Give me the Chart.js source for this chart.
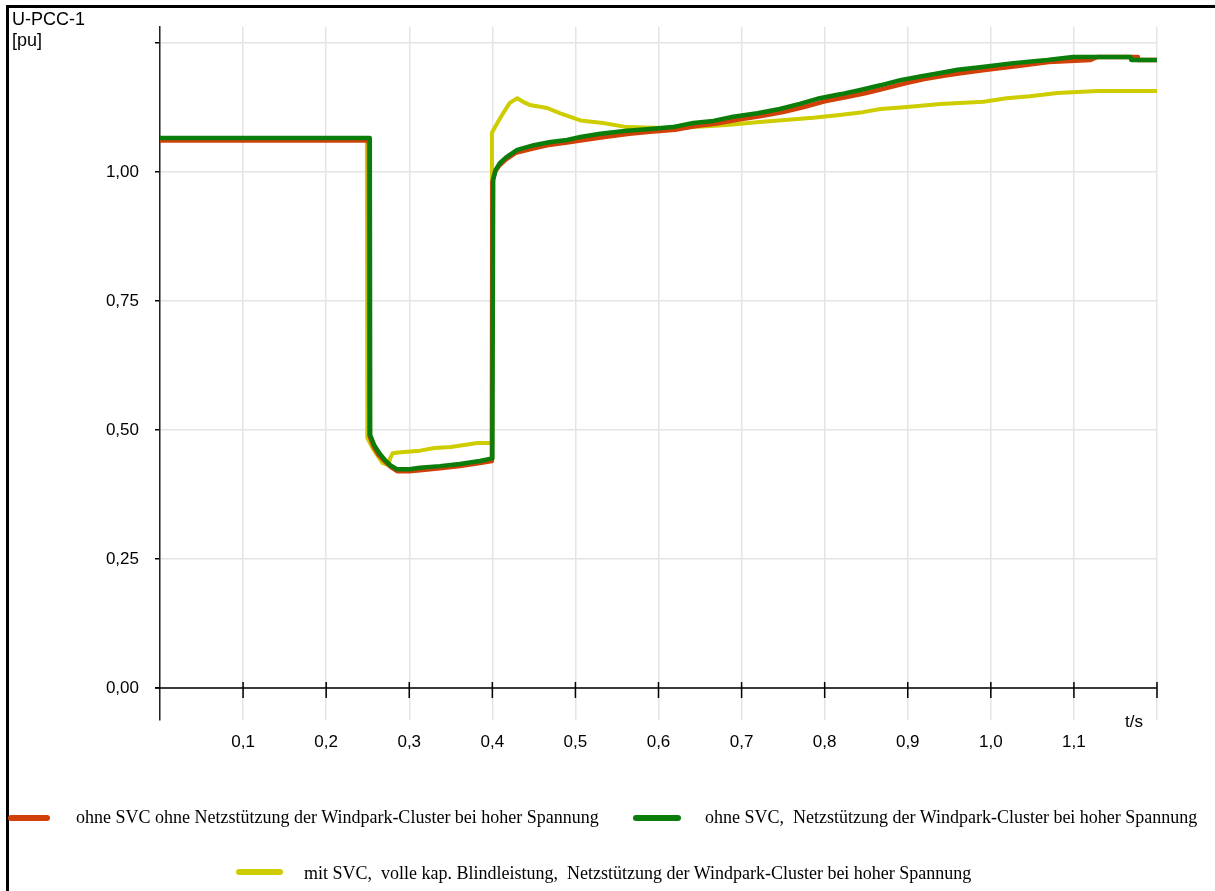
<!DOCTYPE html>
<html lang="de">
<head>
<meta charset="utf-8">
<title>U-PCC-1</title>
<script src="https://cdn.jsdelivr.net/npm/chart.js@4/dist/chart.umd.min.js"></script>
<style>
    body { margin: 0; background: #fff; }
    #wrap { position: relative; width: 1215px; height: 891px; overflow: hidden; background: #fff; }
    #chart { position: absolute; left: 0; top: 0; }
    .frame { position: absolute; left: 6px; top: 5px; width: 1400px; height: 1000px; border-top: 3px solid #000; border-left: 3px solid #000; }
    .unit { position: absolute; left: 12px; top: 9px; font: 18px/21px "Liberation Sans", Arial, sans-serif; color: #000; }
    .leg-line { position: absolute; height: 6px; border-radius: 3px; }
    .leg-text { position: absolute; font: 18px/18px "Liberation Serif", "Times New Roman", serif; color: #000; white-space: pre; }
</style>
</head>
<body>
<div id="wrap">
    <canvas id="chart" width="1215" height="891"></canvas>
    <div class="frame"></div>
    <div class="unit">U-PCC-1<br>[pu]</div>

    <div class="leg-line" style="left:8px; top:815px; width:42px; background:#d2400a"></div>
    <div class="leg-text" style="left:76px; top:808px">ohne SVC ohne Netzstützung der Windpark-Cluster bei hoher Spannung</div>

    <div class="leg-line" style="left:633px; top:815px; width:48px; background:#0a7d0a"></div>
    <div class="leg-text" style="left:705px; top:808px">ohne SVC,  Netzstützung der Windpark-Cluster bei hoher Spannung</div>

    <div class="leg-line" style="left:236px; top:869px; width:47px; background:#cdcd00"></div>
    <div class="leg-text" style="left:304px; top:864px">mit SVC,  volle kap. Blindleistung,  Netzstützung der Windpark-Cluster bei hoher Spannung</div>
</div>

<script>
// Achsen
const xTicks = [0, 0.1, 0.2, 0.3, 0.4, 0.5, 0.6, 0.7, 0.8, 0.9, 1.0, 1.1, 1.2];
const yTicks = [0, 0.25, 0.5, 0.75, 1.0, 1.25];

// ohne SVC ohne Netzstuetzung (rot)
const tRed = [0, 0.2515, 0.252, 0.257, 0.263, 0.270, 0.278, 0.286, 0.30, 0.313,
    0.337, 0.361, 0.385, 0.3995, 0.400, 0.403, 0.408, 0.416, 0.428, 0.45,
    0.47, 0.49, 0.51, 0.535, 0.565, 0.59, 0.62, 0.645, 0.67, 0.695,
    0.722, 0.75, 0.775, 0.80, 0.825, 0.85, 0.873, 0.897, 0.92, 0.945,
    0.97, 0.995, 1.035, 1.07, 1.12, 1.128, 1.176, 1.177, 1.2];
const uRed = [1.061, 1.061, 0.49, 0.468, 0.452, 0.44, 0.428, 0.42, 0.42, 0.422,
    0.426, 0.430, 0.436, 0.44, 0.98, 1.0, 1.012, 1.024, 1.037, 1.046,
    1.053, 1.057, 1.062, 1.068, 1.074, 1.078, 1.082, 1.089, 1.094, 1.101,
    1.108, 1.116, 1.126, 1.137, 1.145, 1.153, 1.162, 1.172, 1.18, 1.187,
    1.193, 1.198, 1.206, 1.213, 1.217, 1.223, 1.223, 1.217, 1.217];

// ohne SVC, Netzstuetzung (gruen)
const tGreen = [0, 0.2525, 0.253, 0.258, 0.264, 0.270, 0.277, 0.285, 0.30, 0.313,
    0.337, 0.361, 0.385, 0.400, 0.401, 0.404, 0.409, 0.417, 0.430, 0.45,
    0.47, 0.49, 0.506, 0.530, 0.562, 0.586, 0.617, 0.642, 0.666, 0.690,
    0.719, 0.746, 0.77, 0.794, 0.82, 0.843, 0.867, 0.891, 0.915, 0.939,
    0.96, 0.987, 1.027, 1.068, 1.099, 1.168, 1.169, 1.2];
const uGreen = [1.066, 1.066, 0.49, 0.47, 0.455, 0.443, 0.432, 0.424, 0.424, 0.427,
    0.430, 0.434, 0.440, 0.445, 0.985, 1.004, 1.017, 1.029, 1.043, 1.052,
    1.058, 1.062, 1.068, 1.074, 1.080, 1.083, 1.087, 1.095, 1.099, 1.107,
    1.114, 1.122, 1.132, 1.143, 1.151, 1.159, 1.168, 1.178, 1.185, 1.192,
    1.198, 1.203, 1.211, 1.217, 1.223, 1.223, 1.217, 1.217];

// mit SVC (gelb)
const tYellow = [0, 0.249, 0.2495, 0.256, 0.262, 0.268, 0.275, 0.277, 0.280, 0.29,
    0.313, 0.330, 0.350, 0.382, 0.399, 0.3995, 0.406, 0.413, 0.421, 0.430,
    0.437, 0.445, 0.466, 0.481, 0.506, 0.533, 0.562, 0.617, 0.642, 0.682,
    0.722, 0.786, 0.815, 0.846, 0.867, 0.899, 0.939, 0.991, 1.019, 1.047,
    1.080, 1.128, 1.2];
const uYellow = [1.063, 1.063, 0.485, 0.465, 0.450, 0.436, 0.432, 0.445, 0.455, 0.457,
    0.460, 0.465, 0.467, 0.475, 0.475, 1.076, 1.095, 1.114, 1.134, 1.143,
    1.136, 1.130, 1.124, 1.114, 1.100, 1.095, 1.087, 1.085, 1.087, 1.091,
    1.097, 1.105, 1.110, 1.116, 1.122, 1.126, 1.132, 1.136, 1.143, 1.147,
    1.153, 1.157, 1.157];

const toPoints = (ts, us) => ts.map((t, i) => ({ x: t, y: us[i] }));

const tickFont = { family: '"Liberation Sans", Arial, sans-serif', size: 17 };
const gridColor = '#e4e4e4';

// Nulllinie mit Strichen + "t/s"
const zeroAxis = {
    id: 'zeroAxis',
    beforeDatasetsDraw(chart) {
        const { ctx, chartArea, scales } = chart;
        const x = scales.x, y = scales.y;
        const y0 = y.getPixelForValue(0);
        ctx.save();
        ctx.strokeStyle = '#000';
        ctx.lineWidth = 1.5;
        ctx.beginPath();
        ctx.moveTo(chartArea.left - 5, y0);
        ctx.lineTo(chartArea.right, y0);
        xTicks.forEach(v => {
            if (v === 0) return;
            const px = x.getPixelForValue(v);
            ctx.moveTo(px, y0 - 6);
            ctx.lineTo(px, y0 + 10);
        });
        ctx.stroke();

        ctx.fillStyle = '#000';
        ctx.font = '17px "Liberation Sans", Arial, sans-serif';
        ctx.textAlign = 'center';
        ctx.textBaseline = 'alphabetic';
        ctx.fillText('t/s', x.getPixelForValue(1.2) - 23, chartArea.bottom + 7);
        ctx.restore();
    }
};

const lineStyle = {
    pointRadius: 0,
    fill: false,
    tension: 0,
    borderCapStyle: 'round',
    borderJoinStyle: 'round'
};

const ctx = document.getElementById('chart').getContext('2d');
const chart = new Chart(ctx, {
    type: 'line',
    data: {
        datasets: [
            { ...lineStyle, label: 'ohne SVC,  Netzstützung der Windpark-Cluster bei hoher Spannung',
              data: toPoints(tGreen, uGreen), borderColor: '#0a7d0a', borderWidth: 4.5 },
            { ...lineStyle, label: 'ohne SVC ohne Netzstützung der Windpark-Cluster bei hoher Spannung',
              data: toPoints(tRed, uRed), borderColor: '#d2400a', borderWidth: 4.5 },
            { ...lineStyle, label: 'mit SVC,  volle kap. Blindleistung,  Netzstützung der Windpark-Cluster bei hoher Spannung',
              data: toPoints(tYellow, uYellow), borderColor: '#cdcd00', borderWidth: 4 }
        ]
    },
    options: {
        responsive: false,
        animation: false,
        devicePixelRatio: 1,
        layout: { padding: { top: 27, right: 58, bottom: 131, left: 0 } },
        plugins: {
            legend: { display: false },
            tooltip: { enabled: false }
        },
        scales: {
            x: {
                type: 'linear',
                min: 0,
                max: 1.2,
                afterBuildTicks: s => { s.ticks = xTicks.map(v => ({ value: v })); },
                afterFit: s => { s.height = 40; },
                grid: { color: gridColor, lineWidth: 1.5, drawTicks: false },
                border: { display: false },
                ticks: {
                    font: tickFont,
                    color: '#000',
                    padding: 12,
                    maxRotation: 0,
                    autoSkip: false,
                    callback: v => (v === 0 || v === 1.2) ? '' : v.toFixed(1).replace('.', ',')
                }
            },
            y: {
                min: -0.062,
                max: 1.281,
                afterBuildTicks: s => { s.ticks = yTicks.map(v => ({ value: v })); },
                afterFit: s => { s.width = 160; },
                grid: { color: gridColor, lineWidth: 1.5, tickColor: '#000', tickLength: 5, tickWidth: 1.5 },
                border: { color: '#222', width: 1.5 },
                ticks: {
                    font: tickFont,
                    color: '#000',
                    padding: 16,
                    callback: v => v === 1.25 ? '' : v.toFixed(2).replace('.', ',')
                }
            }
        }
    },
    plugins: [zeroAxis]
});
</script>
</body>
</html>
